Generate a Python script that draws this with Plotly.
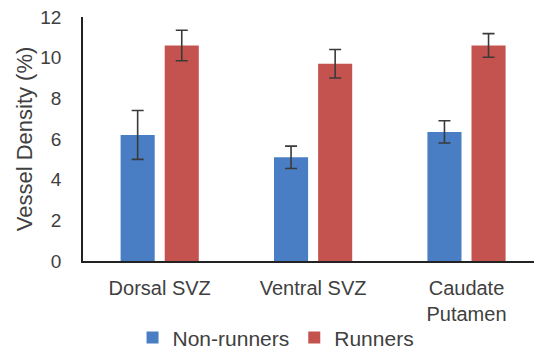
import plotly.graph_objects as go

# Vessel density by brain region, mean ± error
regions = ["Dorsal SVZ", "Ventral SVZ", "Caudate<br>Putamen"]
non_runners = [6.2, 5.1, 6.35]
non_runners_err = [1.2, 0.55, 0.55]
runners = [10.6, 9.7, 10.6]
runners_err = [0.75, 0.7, 0.58]

text_color = "#404040"
font_family = "Liberation Sans, Arial, sans-serif"

err_style = dict(type="data", visible=True, color="#3a3a3a", thickness=1.6, width=6)

fig = go.Figure()
fig.add_trace(go.Bar(
    name="Non-runners", x=regions, y=non_runners,
    marker=dict(color="#4a7ec4", line=dict(width=0)),
    error_y=dict(array=non_runners_err, **err_style),
))
fig.add_trace(go.Bar(
    name="Runners", x=regions, y=runners,
    marker=dict(color="#c4524e", line=dict(width=0)),
    error_y=dict(array=runners_err, **err_style),
))

fig.update_layout(
    width=534, height=349,
    margin=dict(l=83, r=0, t=17, b=88),
    paper_bgcolor="white", plot_bgcolor="white",
    barmode="group", bargap=0.425, bargroupgap=0.227,
    font=dict(family=font_family, color=text_color, size=20),
    showlegend=True,
    legend=dict(
        orientation="h", x=0.428, xanchor="center",
        yref="container", y=0.032, yanchor="middle",
        font=dict(size=21, color=text_color), itemwidth=30,
        bgcolor="rgba(0,0,0,0)", borderwidth=0,
    ),
)
fig.update_xaxes(
    range=[-0.5, 2.44], showline=True, linecolor="#222222", linewidth=1.5,
    ticks="outside", ticklen=8, tickcolor="rgba(0,0,0,0)", automargin=False,
    showgrid=False, tickfont=dict(size=20, color=text_color),
)
fig.update_yaxes(
    range=[0, 12], dtick=2, showline=True, linecolor="#222222", linewidth=1.5,
    showgrid=False, zeroline=False, ticks="outside", ticklen=16, automargin=False,
    tickcolor="rgba(0,0,0,0)", tickfont=dict(size=19, color=text_color),
    title=dict(text="Vessel Density (%)", font=dict(size=22, color=text_color), standoff=2),
)

fig.write_html("out.html")
